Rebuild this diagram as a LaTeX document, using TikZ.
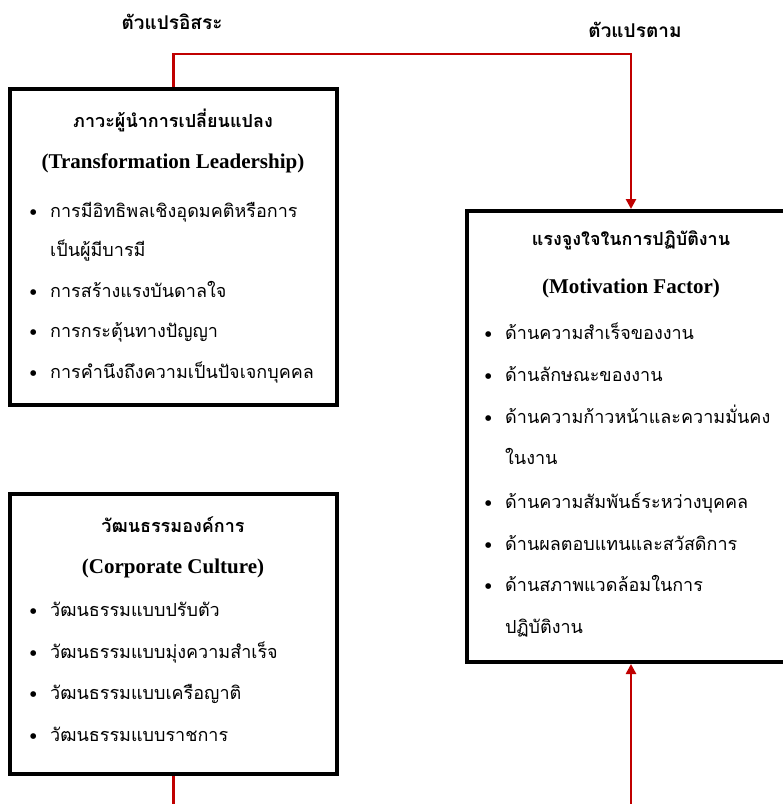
\documentclass[tikz,border=0pt]{standalone}
\usepackage{fontspec}
\setmainfont{Liberation Serif}
\newfontfamily\thaifont[Script=Thai]{Loma}
\usetikzlibrary{arrows.meta,positioning}
\definecolor{linkred}{RGB}{192,0,0}
\newcommand{\bul}{\makebox[21pt][l]{\raisebox{-3pt}{\normalfont\fontsize{24}{24}\selectfont\textbullet}}}

\begin{document}
\begin{tikzpicture}[x=1pt, y=-1pt,
    varbox/.style={draw, rectangle, line width=4pt, inner sep=0pt},
    link/.style={draw=linkred, line width=2.8pt},
    head/.style={font=\thaifont\bfseries\fontsize{18}{20}\selectfont, inner sep=0pt},
    engl/.style={font=\bfseries\fontsize{21}{24}\selectfont, inner sep=0pt},
    item/.style={anchor=base west, inner sep=0pt, font=\thaifont\fontsize{18}{20}\selectfont},
    toplabel/.style={font=\thaifont\bfseries\fontsize{19}{21}\selectfont, inner sep=0pt}]
  \useasboundingbox (0,0) rectangle (783,804);

  \node[toplabel] (indep) at (172,22) {ตัวแปรอิสระ};
  \node[toplabel] (dep) at (635,30) {ตัวแปรตาม};

  % the three boxes
  \node[varbox, minimum width=327pt, minimum height=316pt] (lead) at (173.5,247) {};
  \node[varbox, minimum width=327pt, minimum height=280pt] (culture) at (173.5,634) {};
  \node[varbox, minimum width=328pt, minimum height=451pt] (motiv) at (631,436.5) {};

  % transformation leadership
  \node[head] (leadth) at (173,120) {ภาวะผู้นำการเปลี่ยนแปลง};
  \node[engl] (leaden) at (173,163) {(Transformation Leadership)};
  \node[item] (lead1) at (29,217) {\bul การมีอิทธิพลเชิงอุดมคติหรือการ};
  \node[item] (lead1b) at (50,256) {เป็นผู้มีบารมี};
  \node[item] (lead2) at (29,297) {\bul การสร้างแรงบันดาลใจ};
  \node[item] (lead3) at (29,337) {\bul การกระตุ้นทางปัญญา};
  \node[item] (lead4) at (29,378) {\bul การคำนึงถึงความเป็นปัจเจกบุคคล};

  % corporate culture
  \node[head] (cultth) at (173,525) {วัฒนธรรมองค์การ};
  \node[engl] (culten) at (173,568) {(Corporate Culture)};
  \node[item] (cult1) at (29,616) {\bul วัฒนธรรมแบบปรับตัว};
  \node[item] (cult2) at (29,658) {\bul วัฒนธรรมแบบมุ่งความสำเร็จ};
  \node[item] (cult3) at (29,699) {\bul วัฒนธรรมแบบเครือญาติ};
  \node[item] (cult4) at (29,741) {\bul วัฒนธรรมแบบราชการ};

  % motivation factor
  \node[head] (motivth) at (631,240) {แรงจูงใจในการปฏิบัติงาน};
  \node[engl] (motiven) at (631,288) {(Motivation Factor)};
  \node[item] (motiv1) at (484,339) {\bul ด้านความสำเร็จของงาน};
  \node[item] (motiv2) at (484,381) {\bul ด้านลักษณะของงาน};
  \node[item] (motiv3) at (484,423) {\bul ด้านความก้าวหน้าและความมั่นคง};
  \node[item] (motiv3b) at (505,464) {ในงาน};
  \node[item] (motiv4) at (484,508) {\bul ด้านความสัมพันธ์ระหว่างบุคคล};
  \node[item] (motiv5) at (484,550) {\bul ด้านผลตอบแทนและสวัสดิการ};
  \node[item] (motiv6) at (484,591) {\bul ด้านสภาพแวดล้อมในการ};
  \node[item] (motiv6b) at (505,633) {ปฏิบัติงาน};

  % connectors
  \coordinate (cultout) at (173.5,810);
  \coordinate (motivin) at (631,810);
  \draw[link, -{Triangle[length=10pt,width=10pt]}] (lead.north) -- ++(0,-33) -| (motiv.north);
  \draw[link] (culture.south) -- (cultout);
  \draw[link, -{Triangle[length=10pt,width=10pt]}] (motivin) -- (motiv.south);
\end{tikzpicture}
\end{document}
